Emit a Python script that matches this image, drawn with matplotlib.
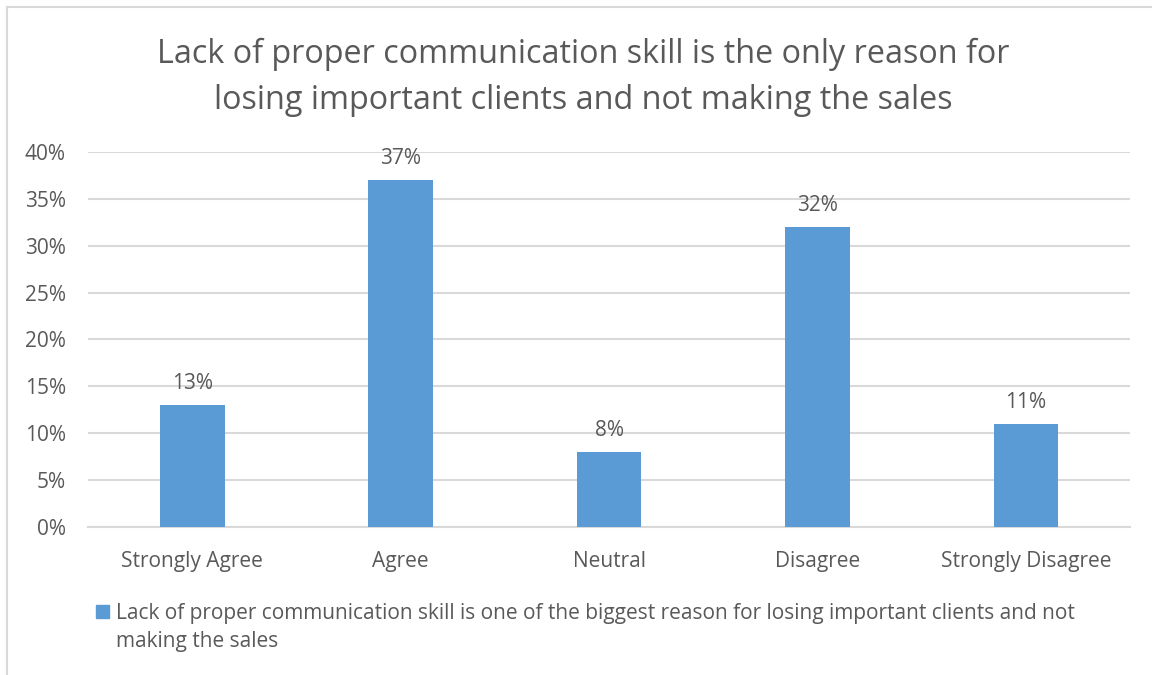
import matplotlib.pyplot as plt
from matplotlib.lines import Line2D
from matplotlib.patches import Rectangle
from matplotlib.ticker import PercentFormatter

plt.rcParams['font.family'] = ['Open Sans', 'DejaVu Sans']

categories = ['Strongly Agree', 'Agree', 'Neutral', 'Disagree', 'Strongly Disagree']
values = [13, 37, 8, 32, 11]
series_name = ('Lack of proper communication skill is one of the biggest reason for losing important clients and not\n'
               'making the sales')
title = 'Lack of proper communication skill is the only reason for\nlosing important clients and not making the sales'

bar_color = '#5B9BD5'
text_color = '#595959'
grid_color = '#D9D9D9'

fig = plt.figure(figsize=(11.52, 6.75), dpi=100)
ax = fig.add_axes([0.0764, 0.2193, 0.9046, 0.5556])

x = range(len(categories))
bars = ax.bar(x, values, width=0.31, color=bar_color, zorder=3)
ax.bar_label(bars, labels=[f'{v}%' for v in values], padding=8,
             fontsize=15, color=text_color)

ax.set_xlim(-0.5, len(categories) - 0.5)
ax.set_ylim(0, 40)
ax.set_yticks(range(0, 41, 5))
ax.yaxis.set_major_formatter(PercentFormatter(decimals=0))
ax.set_xticks(list(x))
ax.set_xticklabels(categories)
ax.tick_params(axis='both', length=0, labelsize=15, colors=text_color)
ax.tick_params(axis='x', pad=17)
ax.tick_params(axis='y', pad=16)
ax.grid(axis='y', color=grid_color, linewidth=1.5, zorder=0)
for s in ['top', 'right', 'left']:
    ax.spines[s].set_visible(False)
ax.spines['bottom'].set_color(grid_color)
ax.spines['bottom'].set_linewidth(1.5)

fig.text(0.506, 1 - 77.5 / 675, title, ha='center', va='center', fontsize=23.3,
         color=text_color, linespacing=1.5)

# legend: square swatch plus wrapped series name
fig.add_artist(Rectangle((96 / 1152, 1 - 618 / 675), 13 / 1152, 13 / 675,
                         transform=fig.transFigure, color=bar_color))
fig.text(116 / 1152, 1 - 627.5 / 675, series_name, ha='left', va='center',
         fontsize=15, color=text_color, linespacing=1.5)

# chart frame (left and top edges)
fig.add_artist(Line2D([0.0065, 0.0065], [0, 0.99], color=grid_color, linewidth=1.5))
fig.add_artist(Line2D([0.0065, 1.0], [0.99, 0.99], color=grid_color, linewidth=1.5))

fig.savefig('out.png', dpi=100)
